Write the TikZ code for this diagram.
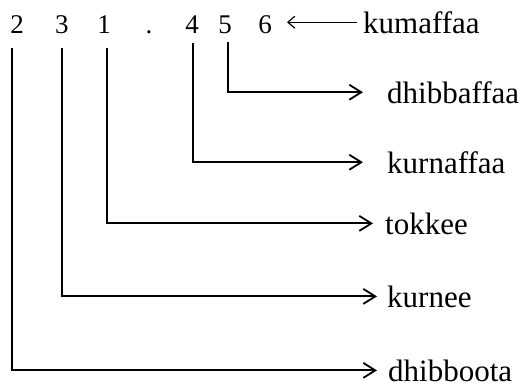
\documentclass[tikz,border=0pt]{standalone}
\usepackage{fontspec}
\setmainfont{Liberation Serif}
\usetikzlibrary{arrows.meta}
\begin{document}
\begin{tikzpicture}[x=1pt,y=-1pt,
  digit/.style={anchor=base,inner sep=0pt,font=\fontsize{27}{27}\selectfont},
  lab/.style={anchor=base west,inner sep=0pt,font=\fontsize{31}{31}\selectfont},
  conn/.style={line width=1.8pt,-{Straight Barb[length=12pt,width=15pt,line width=1.8pt]}},
  thin arrow/.style={line width=1.2pt,{Straight Barb[length=7pt,width=12pt,line width=1.2pt]}-}]
\useasboundingbox (0,0) rectangle (523,388);
% digits
\node[digit] (d2) at (17,33) {2};
\node[digit] (d3) at (62,33) {3};
\node[digit] (d1) at (104,33) {1};
\node[digit] (dp) at (149,33) {.};
\node[digit] (d4) at (192,33) {4};
\node[digit] (d5) at (225,33) {5};
\node[digit] (d6) at (265,33) {6};
% labels
\node[lab] (k)  at (363,33)  {kumaffaa};
\node[lab] (l5) at (387,103) {dhibbaffaa};
\node[lab] (l4) at (387,173) {kurnaffaa};
\node[lab] (l1) at (385,234) {tokkee};
\node[lab] (l3) at (387,307) {kurnee};
\node[lab] (l2) at (388,381) {dhibboota};
% connectors
\draw[thin arrow] ([xshift=15pt]d6.east |- k.west) -- ([xshift=-6pt]k.west);
\draw[conn,shorten >=24pt] ([xshift=3pt,yshift=-9pt]d5.south) |- (l5.west);
\draw[conn,shorten >=24pt] ([xshift=1pt,yshift=-10pt]d4.south) |- (l4.west);
\draw[conn,shorten >=12pt] ([xshift=3pt,yshift=-15pt]d1.south) |- (l1.west);
\draw[conn,shorten >=10pt] ([xshift=0pt,yshift=-15pt]d3.south) |- (l3.west);
\draw[conn,shorten >=11pt] ([xshift=-5pt,yshift=-15pt]d2.south) |- (l2.west);
\end{tikzpicture}
\end{document}
